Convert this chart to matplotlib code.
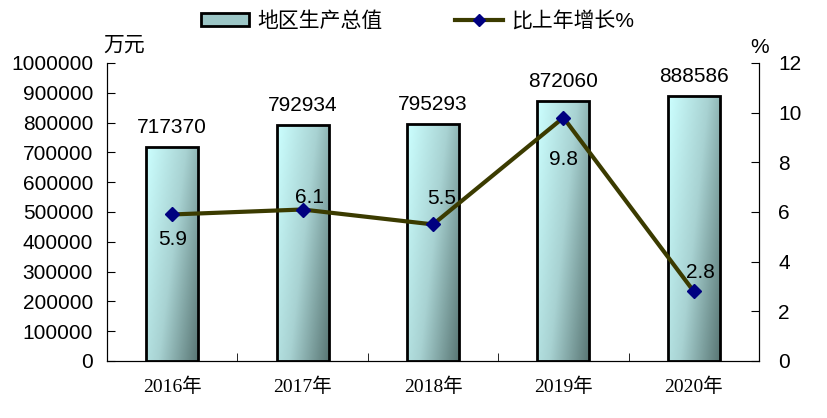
import numpy as np
import matplotlib.pyplot as plt
from matplotlib.colors import LinearSegmentedColormap
from matplotlib.patches import Rectangle
from matplotlib.lines import Line2D
from matplotlib.ticker import FuncFormatter

plt.rcParams['font.family'] = ['Liberation Sans', 'Noto Sans CJK SC']

years = ['2016年', '2017年', '2018年', '2019年', '2020年']
gdp = [717370, 792934, 795293, 872060, 888586]
growth = [5.9, 6.1, 5.5, 9.8, 2.8]

# where excel put the growth labels (offset in points from the marker)
growth_offsets = [(0, -18), (5, 9), (6, 19), (0, -30), (5, 14)]

fig = plt.figure(figsize=(8.27, 4.18), dpi=100)
ax = fig.add_axes([0.1294, 0.1364, 0.7884, 0.7129])
ax2 = ax.twinx()

x = np.arange(len(years))
bar_w = 0.4
cmap = LinearSegmentedColormap.from_list('g', ['#ccffff', '#a8d2d2', '#587573'])

# diagonal gradient: light top-left, dark bottom-right
gx, gy = np.meshgrid(np.linspace(0, 1, 60), np.linspace(0, 1, 200))
grad = 0.65 * gx + 0.35 * gy

bars = ax.bar(x, gdp, width=bar_w, facecolor='none', edgecolor='black', linewidth=2, zorder=3)
for b in bars:
    x0, y0 = b.get_x(), b.get_y()
    w, h = b.get_width(), b.get_height()
    im = ax.imshow(grad, cmap=cmap, extent=[x0, x0 + w, y0, y0 + h], aspect='auto', zorder=2)
    im.set_clip_path(b)
for xi, v in zip(x, gdp):
    ax.annotate(str(v), (xi, v), xytext=(0, 7), textcoords='offset points',
                ha='center', va='bottom', fontsize=15)

ax.set_xlim(-0.5, len(years) - 0.5)
ax.set_ylim(0, 1000000)
ax.set_yticks(np.arange(0, 1000001, 100000))
ax.yaxis.set_major_formatter(FuncFormatter(lambda v, p: f'{int(v)}'))
ax.set_xticks(x)
ax.set_xticklabels(years, family=['Liberation Serif', 'Noto Sans CJK SC'], fontsize=14)
ax.set_xticks(np.arange(-0.5, len(years)), minor=True)
ax.tick_params(axis='x', which='major', length=0, pad=12)
ax.tick_params(axis='x', which='minor', direction='in', length=6)
ax.tick_params(axis='y', direction='in', length=6, labelsize=15, pad=10)
ax.spines['top'].set_visible(False)

ax2.plot(x, growth, color='#3b3b00', linewidth=3, marker='D', markersize=7,
         markerfacecolor='#000080', markeredgecolor='#000080', zorder=5)
for xi, v, off in zip(x, growth, growth_offsets):
    ax2.annotate(str(v), (xi, v), xytext=off, textcoords='offset points',
                 ha='center', va='center', fontsize=15)
ax2.set_ylim(0, 12)
ax2.set_yticks(np.arange(0, 13, 2))
ax2.tick_params(axis='y', direction='in', length=6, labelsize=15, pad=14)
ax2.spines['top'].set_visible(False)
ax.set_zorder(ax2.get_zorder() - 1)
ax2.patch.set_visible(False)

fig.text(0.125, 0.892, '万元', fontsize=15, ha='left', va='center')
fig.text(0.918, 0.887, '%', fontsize=15, ha='center', va='center')

handles = [Rectangle((0, 0), 1, 1, facecolor='#9cc6c6', edgecolor='black', linewidth=2),
           Line2D([], [], color='#3b3b00', linewidth=3, marker='D', markersize=6,
                  markerfacecolor='#000080', markeredgecolor='#000080')]
fig.legend(handles, ['地区生产总值', '比上年增长%'], loc='center', bbox_to_anchor=(0.505, 0.95),
           ncol=2, frameon=False, fontsize=15, handlelength=2.3, handleheight=0.6,
           columnspacing=3.5, handletextpad=0.4)

fig.savefig('out.png', dpi=100)
